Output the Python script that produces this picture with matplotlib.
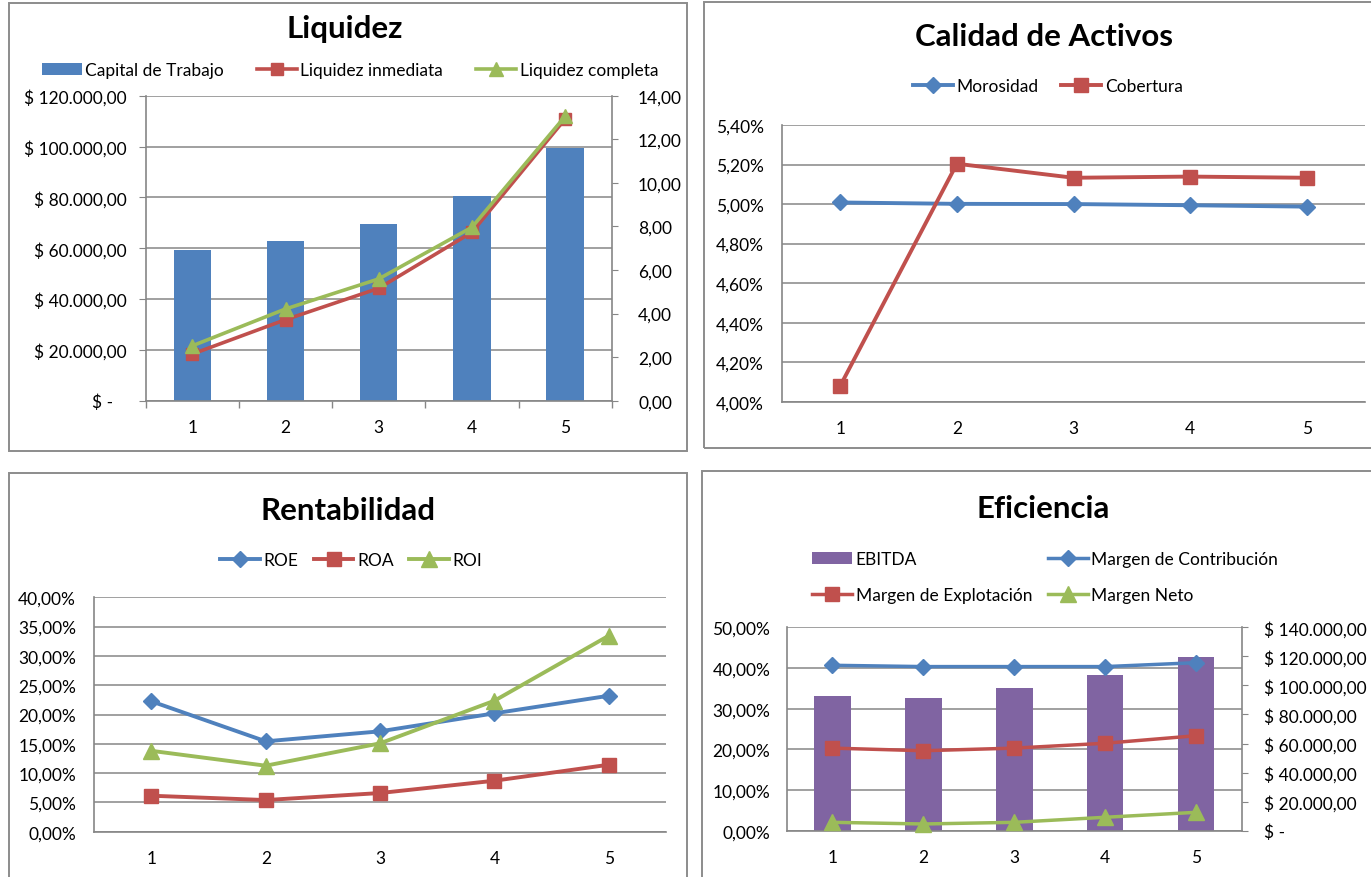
import matplotlib
matplotlib.use("Agg")
import matplotlib.pyplot as plt
import numpy as np
from matplotlib.patches import Rectangle
from matplotlib.lines import Line2D
from matplotlib.ticker import FixedLocator, FixedFormatter, NullFormatter, FuncFormatter

plt.rcParams['font.family'] = ['Lato', 'DejaVu Sans']

# ---------------- data ----------------
periods = [1, 2, 3, 4, 5]

# Liquidez
capital_trabajo = [59400, 62700, 69400, 80400, 99300]
liquidez_inmediata = [2.14, 3.72, 5.16, 7.73, 12.93]
liquidez_completa = [2.52, 4.21, 5.59, 7.96, 13.05]

# Calidad de Activos (%)
morosidad = [5.008, 5.001, 5.000, 4.994, 4.987]
cobertura = [4.081, 5.204, 5.133, 5.139, 5.133]

# Rentabilidad (%)
roe = [22.25, 15.42, 17.13, 20.20, 23.20]
roa = [6.14, 5.40, 6.60, 8.70, 11.43]
roi = [13.80, 11.26, 15.08, 22.35, 33.45]

# Eficiencia
ebitda = [92600, 91400, 98300, 107200, 119800]
margen_contribucion = [40.66, 40.34, 40.34, 40.34, 41.30]
margen_explotacion = [20.30, 19.66, 20.30, 21.50, 23.35]
margen_neto = [2.06, 1.65, 2.06, 3.30, 4.52]

# ---------------- styling ----------------
W, H = 1371, 878
BLUE = '#4F81BD'
RED = '#C0504D'
GREEN = '#9BBB59'
PURPLE = '#8064A2'
GRID = '#868686'
FRAME = '#8c8c8c'
TICK_FS = 12.5
LEG_FS = 12.5
TITLE_FS = 22.5

fig = plt.figure(figsize=(W / 100, H / 100), dpi=100)
fig.patch.set_facecolor('white')


def box(l, t, r, b):
    return [l / W, 1 - b / H, (r - l) / W, (b - t) / H]


def frame(l, t, r, b):
    fig.patches.append(Rectangle((l / W, 1 - b / H), (r - l) / W, (b - t) / H,
                                 transform=fig.transFigure, fill=False,
                                 edgecolor=FRAME, lw=1.4, zorder=0))


def title(x, y, s):
    fig.text(x / W, 1 - y / H, s, ha='center', va='center',
             fontsize=TITLE_FS, fontweight='bold', color='black')


def es_num(v, dec=2):
    s = f"{v:,.{dec}f}"
    return s.replace(",", "X").replace(".", ",").replace("X", ".")


def money_fmt(v, pos=None):
    if abs(v) < 1e-9:
        return "$ -   "
    return "$ " + es_num(v)


def pct_fmt(v, pos=None):
    return es_num(v) + "%"


def num_fmt(v, pos=None):
    return es_num(v)


def category_axis(ax, boundary_ticks=False):
    ax.set_xlim(0.5, len(periods) + 0.5)
    ax.xaxis.set_major_locator(FixedLocator(np.arange(0.5, len(periods) + 1)))
    ax.xaxis.set_major_formatter(NullFormatter())
    ax.xaxis.set_minor_locator(FixedLocator(periods))
    ax.xaxis.set_minor_formatter(FixedFormatter([str(p) for p in periods]))
    ax.tick_params(axis='x', which='minor', length=0, pad=13.5, labelsize=TICK_FS)
    ax.tick_params(axis='x', which='major', length=5 if boundary_ticks else 0,
                   width=1, color=GRID, direction='out')


def base_style(ax):
    for side in ('top', 'right'):
        ax.spines[side].set_visible(False)
    for side in ('left', 'bottom'):
        ax.spines[side].set_color(GRID)
        ax.spines[side].set_linewidth(1.2)
    ax.yaxis.grid(True, color=GRID, lw=1.1)
    ax.set_axisbelow(True)


def twin_style(ax2):
    for side in ('top', 'left', 'bottom'):
        ax2.spines[side].set_visible(False)
    ax2.spines['right'].set_color(GRID)
    ax2.spines['right'].set_linewidth(1.2)


def line(ax, y, color, marker, ms, lw):
    ax.plot(periods, y, color=color, lw=lw, marker=marker, ms=ms,
            markeredgecolor=color, markerfacecolor=color, solid_joinstyle='round',
            zorder=3, clip_on=False)


def legend(handles, labels, x, y, ncol, colsp, hl=2.3, ls=0.9):
    fig.legend(handles, labels, loc='center', bbox_to_anchor=(x / W, 1 - y / H),
               ncol=ncol, frameon=False, fontsize=LEG_FS, handlelength=hl,
               handletextpad=0.2, columnspacing=colsp, borderaxespad=0,
               borderpad=0, labelspacing=ls)


def line_handle(color, marker, ms, lw):
    return Line2D([], [], color=color, lw=lw, marker=marker, ms=ms,
                  markeredgecolor=color, markerfacecolor=color)


def bar_handle(color):
    return Rectangle((0, 0), 1, 1, facecolor=color, edgecolor='none')


# ================= Liquidez =================
frame(8.5, 4, 687, 452)
title(345, 29, 'Liquidez')
ax = fig.add_axes(box(145.7, 96.7, 611.7, 401.7))
base_style(ax)
category_axis(ax, boundary_ticks=True)
ax.bar(periods, capital_trabajo, width=0.4, color=BLUE, zorder=2)
ax.set_ylim(0, 120000)
ax.yaxis.set_major_locator(FixedLocator(np.arange(0, 120001, 20000)))
ax.yaxis.set_major_formatter(FuncFormatter(money_fmt))
ax.tick_params(axis='y', length=5, color=GRID, pad=9, labelsize=TICK_FS)
ax2 = ax.twinx()
twin_style(ax2)
line(ax2, liquidez_inmediata, RED, 's', 8.5, 2.6)
line(ax2, liquidez_completa, GREEN, '^', 9.5, 2.6)
ax2.set_ylim(0, 14)
ax2.yaxis.set_major_locator(FixedLocator(np.arange(0, 14.01, 2)))
ax2.yaxis.set_major_formatter(FuncFormatter(num_fmt))
ax2.tick_params(axis='y', length=4, color=GRID, pad=15, labelsize=TICK_FS)
legend([bar_handle(BLUE), line_handle(RED, 's', 8.5, 2.6), line_handle(GREEN, '^', 9.5, 2.6)],
       ['Capital de Trabajo', 'Liquidez inmediata', 'Liquidez completa'],
       350, 71, 3, 1.9)

# ================= Calidad de Activos =================
frame(704, 2.5, 1390, 449)
title(1044, 37, 'Calidad de Activos')
ax = fig.add_axes(box(782, 126, 1365, 402.7))
base_style(ax)
category_axis(ax)
line(ax, morosidad, BLUE, 'D', 8, 2.8)
line(ax, cobertura, RED, 's', 10, 2.8)
ax.set_ylim(4.0, 5.4)
ax.yaxis.set_major_locator(FixedLocator(np.arange(4.0, 5.401, 0.2)))
ax.yaxis.set_major_formatter(FuncFormatter(pct_fmt))
ax.tick_params(axis='y', length=0, pad=13, labelsize=TICK_FS)
legend([line_handle(BLUE, 'D', 8, 2.8), line_handle(RED, 's', 10, 2.8)],
       ['Morosidad', 'Cobertura'], 1048, 87, 2, 1.3)

# ================= Rentabilidad =================
frame(9, 474, 687, 900)
title(348, 511, 'Rentabilidad')
ax = fig.add_axes(box(94.2, 598.3, 666, 832.7))
base_style(ax)
category_axis(ax)
line(ax, roe, BLUE, 'D', 8, 2.8)
line(ax, roa, RED, 's', 10, 2.8)
line(ax, roi, GREEN, '^', 11, 2.8)
ax.set_ylim(0, 40)
ax.yaxis.set_major_locator(FixedLocator(np.arange(0, 40.01, 5)))
ax.yaxis.set_major_formatter(FuncFormatter(pct_fmt))
ax.tick_params(axis='y', length=0, pad=13, labelsize=TICK_FS)
legend([line_handle(BLUE, 'D', 8, 2.8), line_handle(RED, 's', 10, 2.8),
        line_handle(GREEN, '^', 11, 2.8)],
       ['ROE', 'ROA', 'ROI'], 351, 561, 3, 0.9)

# ================= Eficiencia =================
frame(702, 472, 1390, 900)
title(1043, 509, 'Eficiencia')
pct_max, money_max = 50, 140000
ax2 = fig.add_axes(box(787, 628.3, 1241.7, 831.7))
ax = ax2.twinx()
# money axis (bars) sits behind, percent axis (lines) in front
ax2.yaxis.tick_right()
ax2.yaxis.set_label_position('right')
ax.yaxis.tick_left()
ax.yaxis.set_label_position('left')
for side in ('top', 'left'):
    ax2.spines[side].set_visible(False)
ax2.spines['right'].set_color(GRID)
ax2.spines['right'].set_linewidth(1.2)
ax2.spines['bottom'].set_color(GRID)
ax2.spines['bottom'].set_linewidth(1.2)
for side in ('top', 'right', 'bottom'):
    ax.spines[side].set_visible(False)
ax.spines['left'].set_color(GRID)
ax.spines['left'].set_linewidth(1.2)
category_axis(ax2)
ax2.set_ylim(0, money_max)
pct_ticks = np.arange(0, pct_max + 0.01, 10)
for t in pct_ticks:
    ax2.axhline(t / pct_max * money_max, color=GRID, lw=1.1, zorder=1)
ax2.bar(periods, ebitda, width=0.4, color=PURPLE, zorder=2)
ax2.yaxis.set_major_locator(FixedLocator(np.arange(0, money_max + 1, 20000)))
ax2.yaxis.set_major_formatter(FuncFormatter(money_fmt))
ax2.tick_params(axis='y', length=4, color=GRID, pad=12, labelsize=TICK_FS)
ax.set_ylim(0, pct_max)
line(ax, margen_contribucion, BLUE, 'D', 8, 2.5)
line(ax, margen_explotacion, RED, 's', 10, 2.5)
line(ax, margen_neto, GREEN, '^', 11, 2.5)
ax.yaxis.set_major_locator(FixedLocator(pct_ticks))
ax.yaxis.set_major_formatter(FuncFormatter(pct_fmt))
ax.tick_params(axis='y', length=0, pad=12, labelsize=TICK_FS)
legend([bar_handle(PURPLE), line_handle(RED, 's', 10, 2.5),
        line_handle(BLUE, 'D', 8, 2.5), line_handle(GREEN, '^', 11, 2.5)],
       ['EBITDA', 'Margen de Explotación', 'Margen de Contribución', 'Margen Neto'],
       1045, 578, 2, 0.9, ls=1.15)

fig.savefig('out.png', dpi=100, facecolor='white')
